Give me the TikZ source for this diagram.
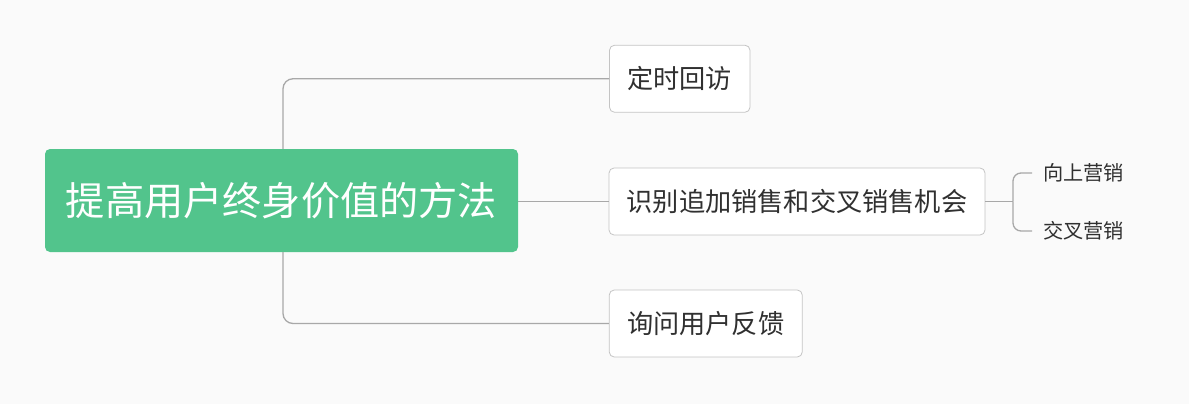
\documentclass[tikz,border=0pt]{standalone}
\usepackage{fontspec}
\setmainfont{Noto Sans CJK SC}
\definecolor{bgcol}{HTML}{FAFAFA}
\definecolor{rootcol}{HTML}{52C48C}
\definecolor{linecol}{HTML}{A8A8A8}
\definecolor{framecol}{HTML}{C4C4C4}
\definecolor{textcol}{HTML}{303030}

\begin{document}
\begin{tikzpicture}[
  x=1pt, y=-1pt,
  root/.style={rectangle, fill=rootcol, rounded corners=5pt, text=white,
    minimum width=473pt, minimum height=103pt, inner sep=0pt,
    font=\fontsize{39.2}{42}\selectfont},
  topic/.style={rectangle, draw=framecol, fill=white, rounded corners=5pt,
    text=textcol, minimum height=67pt, inner sep=0pt, line width=0.8pt,
    font=\fontsize{26.2}{28}\selectfont},
  leaf/.style={anchor=west, text=textcol, inner xsep=11pt, inner ysep=2pt,
    font=\fontsize{20.2}{22}\selectfont},
  link/.style={draw=linecol, line width=1.3pt, rounded corners=10pt}
  ]

  \fill[bgcol] (0,0) rectangle (1189,404);

  \coordinate (trunk) at (283,200);
  \coordinate (fork) at (1013,201.5);

  \node[root] (root) at (281.5,200.5) {提高用户终身价值的方法};
  \node[topic, minimum width=140.5pt] (visit) at (679.75,78.75) {定时回访};
  \node[topic, minimum width=376pt] (offer) at (797,201.5) {识别追加销售和交叉销售机会};
  \node[topic, minimum width=193pt] (ask) at (705.75,323.5) {询问用户反馈};
  \node[leaf] (upsell) at (1032,173) {向上营销};
  \node[leaf] (cross) at (1032,231) {交叉营销};

  \draw[link] (root.north -| trunk) |- (visit.west);
  \draw[link] (root.east |- offer.west) -- (offer.west);
  \draw[link] (root.south -| trunk) |- (ask.west);

  \draw[link] (offer.east) -- (fork);
  \draw[link, rounded corners=8pt] (fork) |- (upsell.west);
  \draw[link, rounded corners=8pt] (fork) |- (cross.west);
\end{tikzpicture}
\end{document}
